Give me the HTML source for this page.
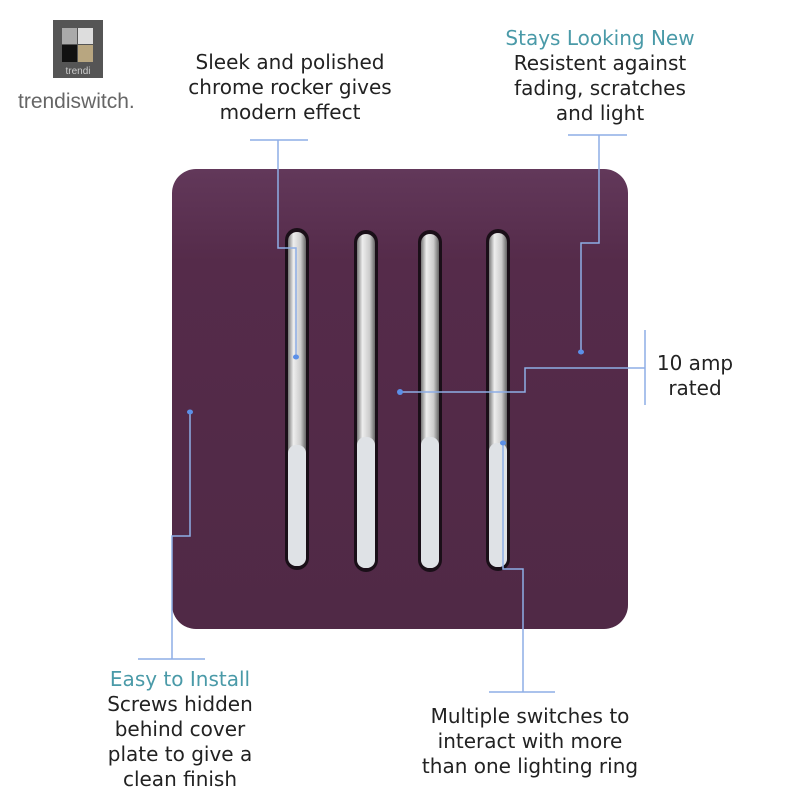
<!DOCTYPE html>
<html><head><style>
body{margin:0;width:800px;height:800px;background:#fff;position:relative;overflow:hidden;font-family:"DejaVu Sans","Liberation Sans",sans-serif;}
.t{position:absolute;text-align:center;color:#222;font-size:20px;line-height:25px;}
.c{color:#4a9aa8;}
</style></head><body>
<svg width="800" height="800" style="position:absolute;left:0;top:0">
<defs>
<linearGradient id="ch" x1="0" x2="1"><stop offset="0" stop-color="#777"/><stop offset=".3" stop-color="#eee"/><stop offset=".7" stop-color="#ccc"/><stop offset="1" stop-color="#666"/></linearGradient>
<linearGradient id="pl" x1="0" y1="0" x2="0" y2="1"><stop offset="0" stop-color="#62385a"/><stop offset=".2" stop-color="#552b4a"/><stop offset="1" stop-color="#502946"/></linearGradient>
</defs>
<rect x="53" y="20" width="50" height="58" fill="#555"/>
<rect x="62" y="28" width="15" height="16" fill="#aaa"/><rect x="78" y="28" width="15" height="16" fill="#ddd"/>
<rect x="62" y="45" width="15" height="17" fill="#111"/><rect x="78" y="45" width="15" height="17" fill="#b8a680"/>
<text x="78" y="74" font-size="10" fill="#ccc" text-anchor="middle" font-family="Liberation Sans">trendi</text>
<text x="18" y="108" font-size="21" fill="#666" font-family="Liberation Sans">trendiswitch.</text>
<rect x="172" y="169" width="456" height="460" rx="24" fill="url(#pl)"/>
<g>
<rect x="285" y="228" width="24" height="342" rx="12" fill="#1a0f18"/><rect x="288" y="232" width="18" height="334" rx="9" fill="url(#ch)"/><rect x="288" y="445" width="18" height="121" rx="8" fill="#dfe2e6"/>
<rect x="354" y="230" width="24" height="342" rx="12" fill="#1a0f18"/><rect x="357" y="234" width="18" height="334" rx="9" fill="url(#ch)"/><rect x="357" y="437" width="18" height="131" rx="8" fill="#dfe2e6"/>
<rect x="418" y="230" width="24" height="342" rx="12" fill="#1a0f18"/><rect x="421" y="234" width="18" height="334" rx="9" fill="url(#ch)"/><rect x="421" y="437" width="18" height="131" rx="8" fill="#dfe2e6"/>
<rect x="486" y="229" width="24" height="342" rx="12" fill="#1a0f18"/><rect x="489" y="233" width="18" height="334" rx="9" fill="url(#ch)"/><rect x="489" y="443" width="18" height="124" rx="8" fill="#dfe2e6"/>
</g>
<g stroke="#8eaee6" stroke-width="1.5" fill="none">
<path d="M250 140H308M278 140V248H296V357"/>
<path d="M568 135H627M599 135V243H581V352"/>
<path d="M645 330V405M645 368H525V392H400"/>
<path d="M190 412V536H172V659M138 659H205"/>
<path d="M503 443V569H523V692M489 692H555"/>
</g>
<g fill="#5b8fe8"><ellipse cx="296" cy="357" rx="3" ry="2.5"/><ellipse cx="581" cy="352" rx="3" ry="2.5"/><ellipse cx="400" cy="392" rx="3" ry="3"/><ellipse cx="190" cy="412" rx="3" ry="2.5"/><ellipse cx="503" cy="443" rx="3" ry="2.5"/></g>
</svg>
<div class="t" style="left:160px;top:50px;width:260px">Sleek and polished<br>chrome rocker gives<br>modern effect</div>
<div class="t" style="left:470px;top:26px;width:260px"><span class="c">Stays Looking New</span><br>Resistent against<br>fading, scratches<br>and light</div>
<div class="t" style="left:640px;top:351px;width:110px">10 amp<br>rated</div>
<div class="t" style="left:70px;top:667px;width:220px"><span class="c">Easy to Install</span><br>Screws hidden<br>behind cover<br>plate to give a<br>clean finish</div>
<div class="t" style="left:375px;top:704px;width:310px">Multiple switches to<br>interact with more<br>than one lighting ring</div>
</body></html>
